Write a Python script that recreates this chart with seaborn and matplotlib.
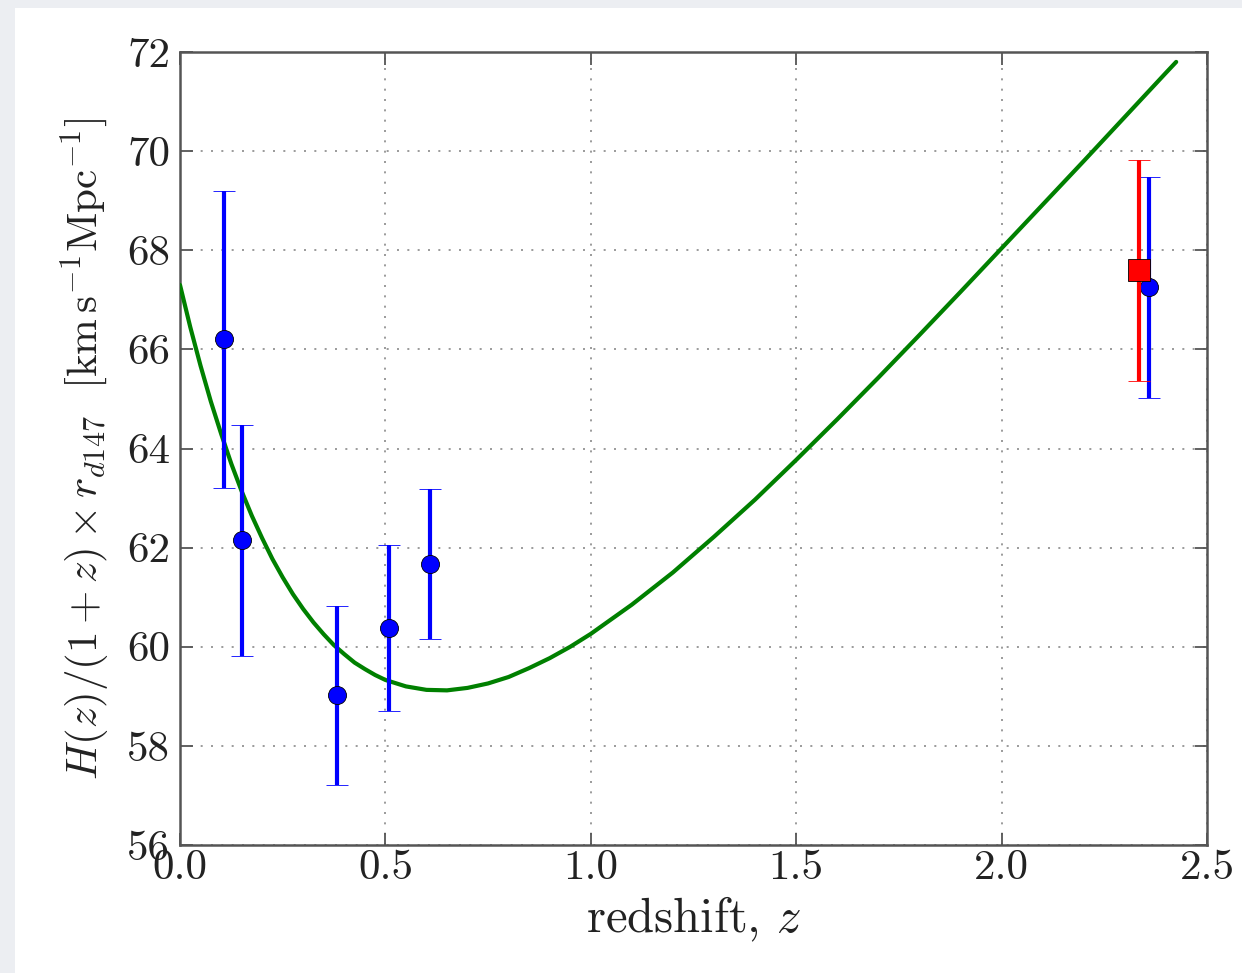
import numpy as np
import pandas as pd
import matplotlib
matplotlib.use("Agg")
import matplotlib.pyplot as plt
from matplotlib.patches import Rectangle
import seaborn as sns

# BAO measurements of H(z)/(1+z) scaled by r_d/147 Mpc
z_gal = [0.107, 0.151, 0.382, 0.509, 0.609, 2.359]
h_gal = [66.20, 62.15, 59.02, 60.38, 61.67, 67.25]
err_gal = [3.00, 2.33, 1.80, 1.67, 1.52, 2.23]

# Lyman-alpha cross-correlation point
z_lya = [2.334]
h_lya = [67.60]
err_lya = [2.23]

# Fiducial LCDM expectation
z_model = [0.000, 0.025, 0.050, 0.075, 0.100, 0.125, 0.150, 0.175, 0.200, 0.225,
           0.250, 0.275, 0.300, 0.325, 0.350, 0.375, 0.400, 0.425, 0.450, 0.475,
           0.50, 0.55, 0.60, 0.65, 0.70, 0.75, 0.80, 0.85, 0.90, 0.95,
           1.00, 1.10, 1.20, 1.30, 1.40, 1.50, 1.60, 1.70, 1.80, 1.90,
           2.00, 2.10, 2.20, 2.30, 2.40, 2.425]
h_model = [67.30, 66.45, 65.67, 64.95, 64.30, 63.69, 63.14, 62.64, 62.19, 61.77,
           61.40, 61.06, 60.76, 60.49, 60.25, 60.03, 59.85, 59.68, 59.55, 59.43,
           59.33, 59.20, 59.13, 59.12, 59.17, 59.26, 59.39, 59.57, 59.77, 60.00,
           60.26, 60.85, 61.50, 62.22, 62.97, 63.77, 64.59, 65.43, 66.29, 67.16,
           68.04, 68.92, 69.80, 70.69, 71.58, 71.80]

x_ticks = [0.0, 0.5, 1.0, 1.5, 2.0, 2.5]
y_ticks = [56, 58, 60, 62, 64, 66, 68, 70, 72]

sns.set_theme(style="ticks")
plt.rcParams.update({
    "font.family": ["cmr10", "DejaVu Serif"],
    "mathtext.fontset": "cm",
    "axes.formatter.use_mathtext": True,
    "axes.unicode_minus": False,
})

fig = plt.figure(figsize=(12.42, 9.73), dpi=100)
fig.patch.set_facecolor("white")
# light page border on the left and top
fig.patches.append(Rectangle((0, 0), 15 / 1242, 1, transform=fig.transFigure,
                             facecolor="#eceef2", edgecolor="none", zorder=0))
fig.patches.append(Rectangle((0, 1 - 8 / 973), 1, 8 / 973, transform=fig.transFigure,
                             facecolor="#eceef2", edgecolor="none", zorder=0))

ax = fig.add_axes([180 / 1242, 1 - 845 / 973, 1027 / 1242, 793 / 973])
ax.set_facecolor("white")

model_df = pd.DataFrame({"z": z_model, "h": h_model})
sns.lineplot(data=model_df, x="z", y="h", ax=ax, color=(0, 0.5, 0), lw=3.0,
             zorder=3, sort=False, solid_joinstyle="round", solid_capstyle="round")

ax.errorbar(z_gal, h_gal, yerr=err_gal, fmt="o", color=(0, 0, 1),
            markersize=13, markeredgecolor="black", markeredgewidth=0.6,
            elinewidth=3, capsize=8, capthick=1.5, zorder=4)
ax.errorbar(z_lya, h_lya, yerr=err_lya, fmt="s", color=(1, 0, 0),
            markersize=16, markeredgecolor="black", markeredgewidth=0.6,
            elinewidth=3, capsize=8, capthick=1.5, zorder=5)

ax.set_xlim(0, 2.5)
ax.set_ylim(56, 72)
ax.set_xticks(x_ticks)
ax.set_yticks(y_ticks)
ax.set_xticklabels([f"{t:.1f}" for t in x_ticks])
ax.set_yticklabels([str(t) for t in y_ticks])

ax.grid(True, linestyle=(0, (1.2, 5.0)), color="#8a8a8a", linewidth=1.2)
ax.set_axisbelow(True)
for s in ax.spines.values():
    s.set_visible(True)
    s.set_color("#555555")
    s.set_linewidth(1.8)
ax.tick_params(axis="both", which="major", direction="in", length=9, width=1.3,
               color="#555555", top=True, right=True, labelsize=31,
               labelcolor="#222222")
ax.tick_params(axis="x", pad=3)
ax.tick_params(axis="y", pad=7)

ax.set_xlabel("redshift, $z$", fontsize=35, color="#222222", labelpad=6)
ax.set_ylabel(r"$H(z)/(1+z)\times r_{d147}\ \ [\mathrm{km\,s^{-1}Mpc^{-1}}]$",
              fontsize=31, color="#222222", labelpad=10)

fig.savefig("out.png", dpi=100, facecolor=fig.get_facecolor())
